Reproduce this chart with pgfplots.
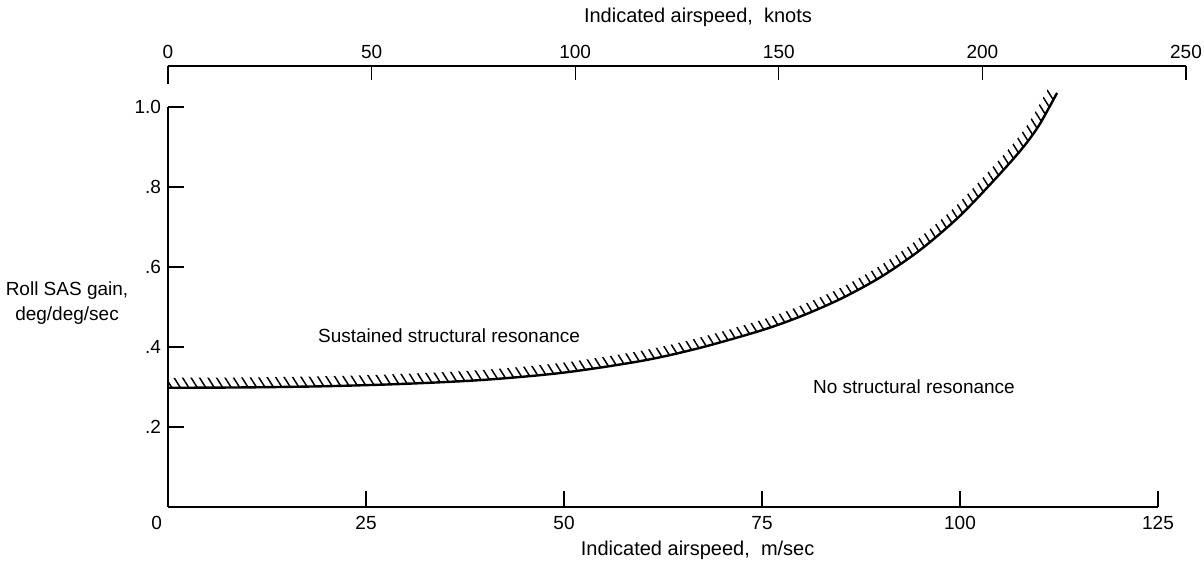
\documentclass[border=0pt]{standalone}
\usepackage{fontspec}
\setmainfont{Liberation Sans}
\usepackage{pgfplots}
\pgfplotsset{compat=1.18}
\usepgfplotslibrary{fillbetween}
\usetikzlibrary{patterns.meta}
\begin{document}
\begin{tikzpicture}
\begin{axis}[
  x=3.96pt, y=200pt,
  xmin=0, xmax=125, ymin=0, ymax=1.0,
  enlargelimits=false,
  axis x line=bottom, axis y line=left,
  axis line style={-, line width=1pt},
  clip=false,
  xtick={0,25,50,75,100,125},
  xticklabels={\makebox[0pt][r]{0\hspace{3pt}},25,50,75,100,125},
  xticklabel style={yshift=-1pt},
  ytick={0.2,0.4,0.6,0.8,1.0},
  yticklabels={.2,.4,.6,.8,1.0},
  tick align=inside, major tick length=8pt,
  tick style={black, line width=0.6pt},
  /pgf/number format/assume math mode=true,
  tick label style={font=\fontsize{9.5}{11}\selectfont},
  label style={font=\fontsize{10}{12}\selectfont},
  xlabel={Indicated airspeed,~~m/sec},
  xlabel style={at={(axis description cs:0.535,-0.1075)}, anchor=center, inner sep=0pt},
  ylabel={Roll SAS gain,\\deg/deg/sec},
  ylabel style={at={(axis description cs:-0.102,0.51)}, anchor=center, rotate=-90, align=center, inner sep=0pt, font=\fontsize{9.5}{12.5}\selectfont},
]
% boundary curve
\addplot[name path=A, black, line width=1.2pt, smooth] coordinates {
  (0,0.298) (10,0.299) (20,0.302) (30,0.308) (40,0.318) (50,0.336)
  (60,0.366) (67.2,0.398) (75,0.442) (80,0.4775) (85,0.521) (90,0.575)
  (95,0.643) (100,0.728) (105,0.832) (108,0.900) (110,0.955) (112.25,1.035)
  };
% upper edge of the hatched band
\addplot[name path=B, draw=none, smooth] coordinates {
  (0,0.323) (10,0.324) (19.97,0.327) (29.95,0.333) (39.91,0.343) (49.85,0.3608)
  (59.77,0.3906) (66.89,0.4222) (74.6,0.4657) (79.53,0.5007) (84.44,0.5434)
  (89.34,0.5963) (94.23,0.6628) (99.13,0.746) (104.07,0.8488) (107.01,0.9155)
  (108.94,0.9684) (111.13,1.0465)
  };
\addplot[draw=none, pattern={Lines[angle=-58, distance=3.6pt, line width=0.75pt]}] fill between[of=A and B];
\node[anchor=west, inner sep=0pt, font=\fontsize{9.5}{11}\selectfont] at (axis cs:18.9,0.4275) {Sustained structural resonance};
\node[anchor=west, inner sep=0pt, font=\fontsize{9.5}{11}\selectfont] at (axis cs:81.4,0.30) {No structural resonance};
\end{axis}
\begin{axis}[
  x=2.036pt, y=200pt,
  xmin=0, xmax=250, ymin=0, ymax=1.1025,
  enlargelimits=false,
  axis x line*=top, axis y line=none,
  axis line style={-, line width=1pt},
  xtick={50,100,150,200,250},
  extra x ticks={0},
  extra x tick style={major tick length=9pt},
  ytick=\empty,
  tick align=inside, major tick length=7pt,
  tick style={black, line width=0.6pt},
  /pgf/number format/assume math mode=true,
  tick label style={font=\fontsize{9.5}{11}\selectfont},
  xticklabel style={inner sep=1pt, yshift=2.3pt},
  label style={font=\fontsize{10}{12}\selectfont},
  xlabel={Indicated airspeed,~~knots},
  xlabel style={at={(axis description cs:0.5206,1.111)}, anchor=center},
]
\end{axis}
\path (-84pt,-27pt) rectangle (518pt,253.5pt);
\end{tikzpicture}
\end{document}
